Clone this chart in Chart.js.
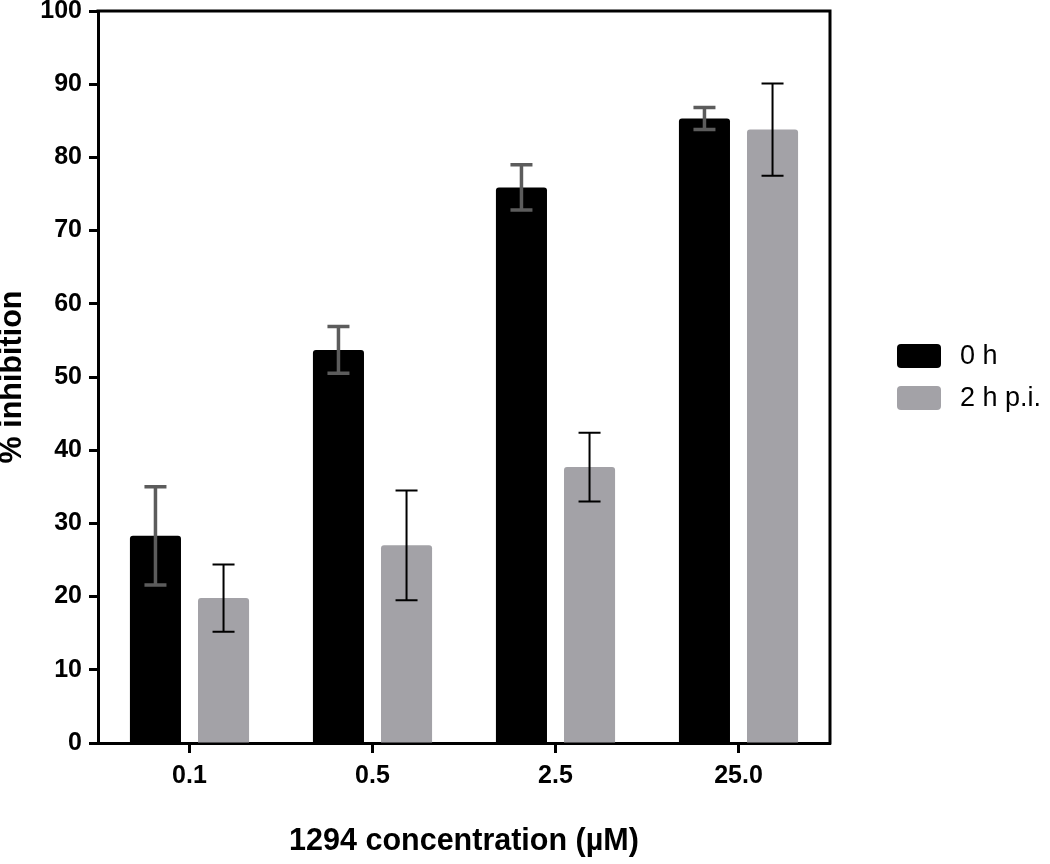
<!DOCTYPE html>
<html>
<head>
<meta charset="utf-8">
<script src="https://cdn.jsdelivr.net/npm/chart.js@4.4.1/dist/chart.umd.min.js"></script>
<style>
  html, body { margin: 0; padding: 0; background: #fff; }
  #wrap { width: 1050px; height: 864px; }
</style>
</head>
<body>
<div id="wrap"><canvas id="inhibChart" width="1050" height="864"></canvas></div>
<script>
// data
const concentrations = ['0.1', '0.5', '2.5', '25.0'];
const yTicks = [0, 10, 20, 30, 40, 50, 60, 70, 80, 90, 100];
const seriesNames = ['0 h', '2 h p.i.'];
const mean0h = [28.3, 53.7, 75.9, 85.3];
const err0h = [6.7, 3.2, 3.1, 1.5];
const mean2h = [19.8, 27.0, 37.7, 83.8];
const err2h = [4.6, 7.5, 4.7, 6.3];

const FONT = '"Liberation Sans", Arial, Helvetica, sans-serif';

// error bars drawn on top of each bar
const errorBars = {
    id: 'errorBars',
    afterDatasetsDraw(chart) {
        const ctx = chart.ctx;
        const y = chart.scales.y;
        chart.data.datasets.forEach((ds, di) => {
            const meta = chart.getDatasetMeta(di);
            meta.data.forEach((bar, i) => {
                const v = ds.data[i], e = ds.errors[i];
                const top = y.getPixelForValue(v + e);
                const bot = y.getPixelForValue(v - e);
                const half = 11;
                ctx.save();
                ctx.strokeStyle = ds.errColor;
                ctx.lineWidth = ds.errWidth;
                ctx.beginPath();
                ctx.moveTo(bar.x, top);
                ctx.lineTo(bar.x, bot);
                ctx.moveTo(bar.x - half, top);
                ctx.lineTo(bar.x + half, top);
                ctx.moveTo(bar.x - half, bot);
                ctx.lineTo(bar.x + half, bot);
                ctx.stroke();
                ctx.restore();
            });
        });
    }
};

// top + right frame lines, and the legend on the right
const frameAndLegend = {
    id: 'frameAndLegend',
    afterDraw(chart) {
        const ctx = chart.ctx;
        const a = chart.chartArea;
        ctx.save();
        ctx.strokeStyle = '#000';
        ctx.lineWidth = 3;
        ctx.beginPath();
        ctx.moveTo(a.left - 1.5, a.top);
        ctx.lineTo(a.right, a.top);
        ctx.lineTo(a.right, a.bottom + 1.5);
        ctx.stroke();

        const bx = a.right + 67;
        let by = 344;
        chart.data.datasets.forEach(ds => {
            ctx.fillStyle = ds.backgroundColor;
            ctx.beginPath();
            ctx.roundRect(bx, by, 44, 24, 4);
            ctx.fill();
            ctx.fillStyle = '#000';
            ctx.font = '27px ' + FONT;
            ctx.textBaseline = 'middle';
            ctx.fillText(ds.label, bx + 63, by + 13);
            by += 42;
        });
        ctx.restore();
    }
};

new Chart(document.getElementById('inhibChart'), {
    type: 'bar',
    data: {
        labels: concentrations,
        datasets: [{
            label: seriesNames[0],
            data: mean0h,
            errors: err0h,
            backgroundColor: '#000000',
            errColor: '#5c5c5c',
            errWidth: 3.5,
            borderRadius: 3,
            categoryPercentage: 0.744,
            barPercentage: 0.75
        }, {
            label: seriesNames[1],
            data: mean2h,
            errors: err2h,
            backgroundColor: '#a3a2a7',
            errColor: '#000000',
            errWidth: 2,
            borderRadius: 3,
            categoryPercentage: 0.744,
            barPercentage: 0.75
        }]
    },
    options: {
        responsive: false,
        animation: false,
        layout: { padding: { top: 0, right: 220, left: 0, bottom: 0 } },
        plugins: {
            legend: { display: false },
            tooltip: { enabled: false }
        },
        scales: {
            x: {
                afterFit(scale) { scale.height = 121; },
                grid: {
                    offset: false,
                    drawOnChartArea: false,
                    drawTicks: true,
                    tickLength: 10,
                    tickWidth: 3,
                    tickColor: '#000'
                },
                border: { display: true, color: '#000', width: 3 },
                ticks: {
                    color: '#000',
                    padding: 8,
                    font: { family: FONT, size: 25, weight: 'bold' }
                },
                title: {
                    display: true,
                    text: '1294 concentration (µM)',
                    color: '#000',
                    padding: { top: 0, bottom: 4 },
                    font: { family: FONT, size: 30.5, weight: 'bold' }
                }
            },
            y: {
                min: 0,
                max: 100,
                afterFit(scale) {
                    scale.width = 98;
                    scale.paddingTop = 11;
                    scale.paddingBottom = 0;
                },
                afterBuildTicks(scale) {
                    scale.ticks = yTicks.map(v => ({ value: v }));
                },
                grid: {
                    drawOnChartArea: false,
                    drawTicks: true,
                    tickLength: 9,
                    tickWidth: 3,
                    tickColor: '#000'
                },
                border: { display: true, color: '#000', width: 3 },
                ticks: {
                    color: '#000',
                    padding: 7,
                    font: { family: FONT, size: 25, weight: 'bold' }
                },
                title: {
                    display: true,
                    text: '% inhibition',
                    color: '#000',
                    padding: { top: 0, bottom: 0 },
                    font: { family: FONT, size: 30.5, weight: 'bold', lineHeight: 0.85 }
                }
            }
        }
    },
    plugins: [errorBars, frameAndLegend]
});
</script>
</body>
</html>
